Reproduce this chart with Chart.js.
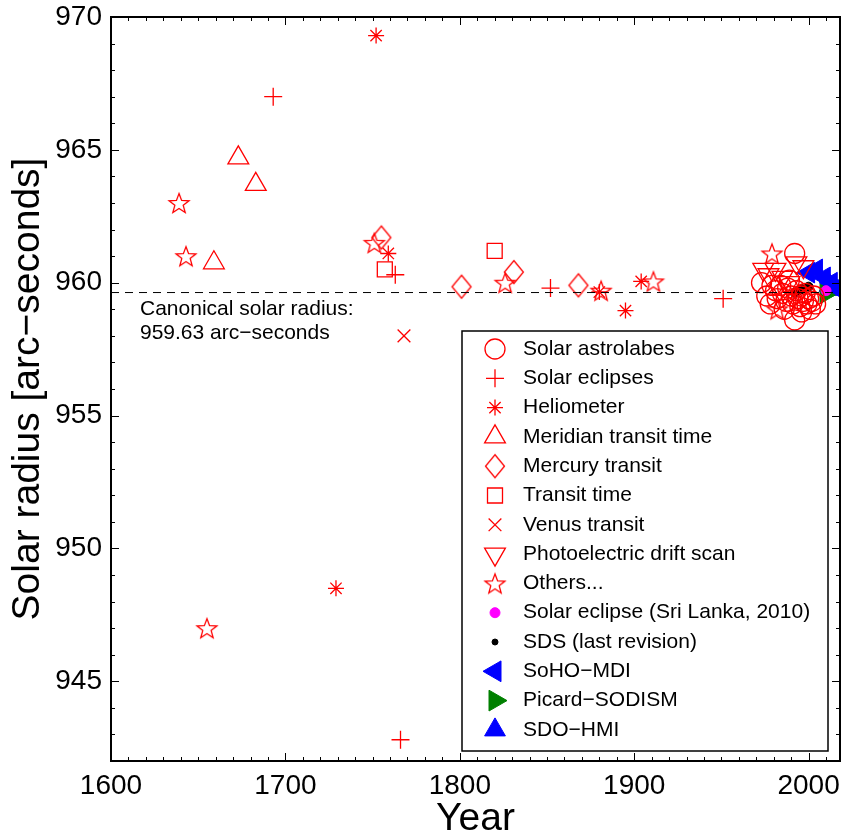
<!DOCTYPE html>
<html>
<head>
<meta charset="utf-8">
<script src="https://cdn.jsdelivr.net/npm/chart.js@4.4.0/dist/chart.umd.min.js"></script>
<style>
html, body { margin: 0; padding: 0; background: #fff; }
#wrap { width: 842px; height: 839px; }
</style>
</head>
<body>
<div id="wrap"><canvas id="chartRadius" width="842" height="839"></canvas></div>
<script>
// axis setup
var xMin = 1600, xMax = 2018;
var yMin = 942, yMax = 970;
var xTicks = [1600, 1700, 1800, 1900, 2000];
var yTicks = [945, 950, 955, 960, 965, 970];
var canonicalRadius = 959.63;

// series (year, radius in arc-seconds)
var astrolabeYears = [1973, 1976, 1978, 1979, 1981, 1982, 1984, 1985, 1986, 1987, 1988, 1989, 1990, 1991, 1992, 1992, 1993, 1994, 1995, 1996, 1996, 1997, 1998, 1999, 2000, 2001, 2002, 2003, 2004];
var astrolabeVals = [960.0, 959.5, 959.2, 959.9, 959.7, 959.4, 959.9, 959.6, 959.0, 959.3, 959.8, 960.1, 959.5, 959.2, 961.1, 958.6, 959.7, 959.4, 959.1, 959.5, 958.9, 959.3, 959.6, 959.2, 959.4, 959.0, 959.3, 959.5, 959.2];

var eclipseYears = [1693, 1763, 1766, 1852, 1951];
var eclipseVals = [967.0, 960.3, 942.8, 959.8, 959.4];

var heliometerYears = [1729, 1752, 1759, 1880, 1895, 1904];
var heliometerVals = [948.5, 969.3, 961.1, 959.65, 958.95, 960.05];

var meridianYears = [1659, 1673, 1683];
var meridianVals = [960.75, 964.7, 963.7];

var mercuryYears = [1755, 1801, 1831, 1868];
var mercuryVals = [961.7, 959.85, 960.4, 959.9];

var transitYears = [1757, 1820];
var transitVals = [960.5, 961.2];

var venusYears = [1768];
var venusVals = [958.0];

var driftYears = [1974, 1977, 1981, 1985, 1989, 1993, 1997];
var driftVals = [960.5, 960.3, 960.5, 960.2, 960.0, 960.75, 960.6];

var othersYears = [1639, 1643, 1655, 1751, 1826, 1881, 1911, 1979, 1982];
var othersVals = [963.0, 961.0, 947.0, 961.5, 960.0, 959.7, 960.05, 961.1, 959.0];

var sriLankaYears = [2010];
var sriLankaVals = [959.7];

var sdsYears = [1992, 1994, 1996, 2000];
var sdsVals = [959.62, 959.7, 959.76, 959.85];

var mdiYears = [2000, 2004.5, 2009, 2013, 2016];
var mdiVals = [960.38, 960.5, 960.2, 960.0, 959.8];

var picardYears = [2010, 2016.5];
var picardVals = [959.6, 959.85];

var hmiYears = [2012, 2014];
var hmiVals = [959.9, 959.75];

var RED = '#ff0000';
var FONT = "'Liberation Sans', Arial, Helvetica, sans-serif";

function pts(xs, ys) {
    return xs.map(function (x, i) { return { x: x, y: ys[i] }; });
}

function makeStar(r, color, lw) {
    var s = Math.ceil(2 * r + 2 * lw + 2);
    var c = document.createElement('canvas');
    c.width = s; c.height = s;
    var g = c.getContext('2d');
    g.strokeStyle = color;
    g.lineWidth = lw;
    g.beginPath();
    for (var i = 0; i < 10; i++) {
        var rr = i % 2 === 0 ? r : r * 0.42;
        var ang = -Math.PI / 2 + i * Math.PI / 5;
        var px = s / 2 + rr * Math.cos(ang), py = s / 2 + 1 + rr * Math.sin(ang);
        if (i === 0) g.moveTo(px, py); else g.lineTo(px, py);
    }
    g.closePath();
    g.stroke();
    return c;
}

function makeDiamond(hw, hh, color, lw) {
    var w = Math.ceil(2 * hw + 2 * lw + 2), h = Math.ceil(2 * hh + 2 * lw + 2);
    var c = document.createElement('canvas');
    c.width = w; c.height = h;
    var g = c.getContext('2d');
    g.strokeStyle = color;
    g.lineWidth = lw;
    g.beginPath();
    g.moveTo(w / 2, h / 2 - hh);
    g.lineTo(w / 2 + hw, h / 2);
    g.lineTo(w / 2, h / 2 + hh);
    g.lineTo(w / 2 - hw, h / 2);
    g.closePath();
    g.stroke();
    return c;
}

var starImg = makeStar(10.5, RED, 1.3);
var diamondImg = makeDiamond(9.5, 11.5, RED, 1.3);

function redSet(label, xs, ys, style, radius, rotation) {
    return {
        label: label,
        data: pts(xs, ys),
        pointStyle: style,
        pointRadius: radius,
        pointRotation: rotation || 0,
        pointBorderColor: RED,
        pointBackgroundColor: 'rgba(0,0,0,0)',
        pointBorderWidth: 1.3,
        borderColor: RED,
        backgroundColor: 'rgba(0,0,0,0)'
    };
}

function filledSet(label, xs, ys, style, radius, color, rotation) {
    return {
        label: label,
        data: pts(xs, ys),
        pointStyle: style,
        pointRadius: radius,
        pointRotation: rotation || 0,
        pointBorderColor: color,
        pointBackgroundColor: color,
        pointBorderWidth: 1,
        borderColor: color,
        backgroundColor: color
    };
}

var datasets = [
    {
        label: '_canonical',
        type: 'line',
        data: [{ x: xMin, y: canonicalRadius }, { x: xMax, y: canonicalRadius }],
        borderColor: '#000',
        borderWidth: 1,
        borderDash: [8, 6],
        pointRadius: 0,
        showLine: true,
        fill: false
    },
    redSet('Solar astrolabes', astrolabeYears, astrolabeVals, 'circle', 10),
    redSet('Solar eclipses', eclipseYears, eclipseVals, 'cross', 9),
    redSet('Heliometer', heliometerYears, heliometerVals, 'star', 8),
    redSet('Meridian transit time', meridianYears, meridianVals, 'triangle', 12),
    redSet('Mercury transit', mercuryYears, mercuryVals, diamondImg, 11),
    redSet('Transit time', transitYears, transitVals, 'rect', 10.6),
    redSet('Venus transit', venusYears, venusVals, 'crossRot', 9),
    redSet('Photoelectric drift scan', driftYears, driftVals, 'triangle', 12, 180),
    redSet('Others...', othersYears, othersVals, starImg, 11),
    filledSet('Solar eclipse (Sri Lanka, 2010)', sriLankaYears, sriLankaVals, 'circle', 5, '#ff00ff'),
    filledSet('SDS (last revision)', sdsYears, sdsVals, 'circle', 4.5, '#000000'),
    filledSet('SoHO\u2212MDI', mdiYears, mdiVals, 'triangle', 12, '#0000ff', 270),
    filledSet('Picard\u2212SODISM', picardYears, picardVals, 'triangle', 12, '#008000', 90),
    filledSet('SDO\u2212HMI', hmiYears, hmiVals, 'triangle', 12, '#0000ff', 0)
];

// inward ticks on all four sides plus the frame
var frameTicks = {
    id: 'frameTicks',
    afterDatasetsDraw: function (chart) {
        var ctx = chart.ctx, a = chart.chartArea;
        var sx = chart.scales.x, sy = chart.scales.y;
        ctx.save();
        ctx.strokeStyle = '#000';
        ctx.lineWidth = 1;
        ctx.beginPath();
        for (var yr = xMin; yr <= xMax; yr += 10) {
            var px = Math.round(sx.getPixelForValue(yr)) + 0.5;
            var len = yr % 100 === 0 ? 8 : 4;
            ctx.moveTo(px, a.bottom); ctx.lineTo(px, a.bottom - len);
            ctx.moveTo(px, a.top); ctx.lineTo(px, a.top + len);
        }
        for (var v = yMin; v <= yMax; v += 1) {
            var py = Math.round(sy.getPixelForValue(v)) + 0.5;
            var ylen = v % 5 === 0 ? 8 : 4;
            ctx.moveTo(a.left, py); ctx.lineTo(a.left + ylen, py);
            ctx.moveTo(a.right, py); ctx.lineTo(a.right - ylen, py);
        }
        ctx.stroke();
        ctx.lineWidth = 2;
        ctx.strokeRect(a.left, a.top, a.right - a.left, a.bottom - a.top);

        // canonical radius note
        ctx.fillStyle = '#000';
        ctx.font = '21px ' + FONT;
        ctx.textBaseline = 'middle';
        ctx.textAlign = 'left';
        ctx.fillText('Canonical solar radius:', a.left + 29, sy.getPixelForValue(canonicalRadius) + 17);
        ctx.fillText('959.63 arc\u2212seconds', a.left + 29, sy.getPixelForValue(canonicalRadius) + 41);
        ctx.restore();
    }
};

var boxLegend = {
    id: 'boxLegend',
    afterDraw: function (chart) {
        var ctx = chart.ctx;
        var left = 462, top = 331, right = 828, bottom = 751;
        ctx.save();
        ctx.fillStyle = '#fff';
        ctx.fillRect(left, top, right - left, bottom - top);
        ctx.strokeStyle = '#000';
        ctx.lineWidth = 1.5;
        ctx.strokeRect(left, top, right - left, bottom - top);

        var rows = chart.data.datasets.filter(function (d) { return d.label.charAt(0) !== '_'; });
        rows.forEach(function (d, i) {
            var y = 349 + i * 29.3;
            ctx.save();
            ctx.strokeStyle = d.pointBorderColor;
            ctx.fillStyle = d.pointBackgroundColor;
            ctx.lineWidth = d.pointBorderWidth;
            var r = d.pointRadius;
            if (d.label === 'SDS (last revision)') r = 3;
            Chart.helpers.drawPoint(ctx, {
                pointStyle: d.pointStyle,
                rotation: d.pointRotation,
                radius: r,
                borderWidth: d.pointBorderWidth
            }, 495, y);
            ctx.restore();
            ctx.fillStyle = '#000';
            ctx.font = '21px ' + FONT;
            ctx.textBaseline = 'middle';
            ctx.textAlign = 'left';
            ctx.fillText(d.label, 523, y);
        });
        ctx.restore();
    }
};

function plainTick(value) { return String(value); }

new Chart(document.getElementById('chartRadius'), {
    type: 'scatter',
    data: { datasets: datasets },
    options: {
        responsive: false,
        animation: false,
        layout: { autoPadding: false, padding: { top: 17, right: 2, bottom: 0, left: 0 } },
        plugins: {
            legend: { display: false },
            tooltip: { enabled: false }
        },
        scales: {
            x: {
                type: 'linear',
                min: xMin,
                max: xMax,
                afterBuildTicks: function (s) { s.ticks = xTicks.map(function (v) { return { value: v }; }); },
                afterFit: function (s) { s.height = 78; s.paddingLeft = 0; s.paddingRight = 0; },
                grid: { display: false, drawTicks: false },
                border: { display: false },
                ticks: {
                    color: '#000',
                    font: { family: FONT, size: 28 },
                    padding: 8,
                    maxRotation: 0,
                    autoSkip: false,
                    callback: plainTick
                },
                title: {
                    display: true,
                    text: 'Year',
                    color: '#000',
                    font: { family: FONT, size: 39, lineHeight: 1 },
                    padding: { top: 0, bottom: 0 }
                }
            },
            y: {
                type: 'linear',
                min: yMin,
                max: yMax,
                afterBuildTicks: function (s) { s.ticks = yTicks.map(function (v) { return { value: v }; }); },
                afterFit: function (s) { s.width = 111; s.paddingTop = 0; s.paddingBottom = 0; },
                grid: { display: false, drawTicks: false },
                border: { display: false },
                ticks: {
                    color: '#000',
                    font: { family: FONT, size: 28 },
                    padding: 9,
                    autoSkip: false,
                    callback: plainTick
                },
                title: {
                    display: true,
                    text: 'Solar radius [arc\u2212seconds]',
                    color: '#000',
                    font: { family: FONT, size: 39, lineHeight: 1 },
                    padding: { top: 9, bottom: 0 }
                }
            }
        }
    },
    plugins: [frameTicks, boxLegend]
});
</script>
</body>
</html>
